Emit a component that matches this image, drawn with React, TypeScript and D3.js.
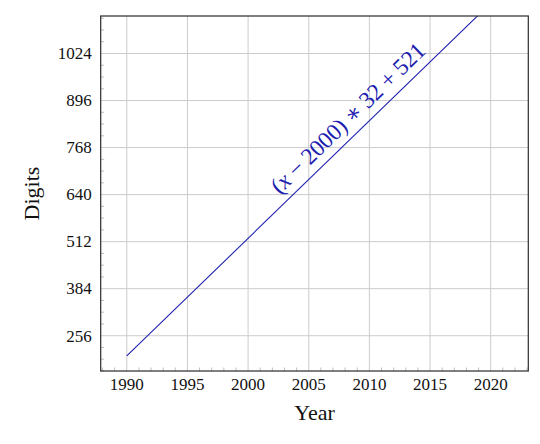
import { useEffect, useRef } from 'react';
import * as d3 from 'd3';

// Axis ticks
const yearTicks = [1990, 1995, 2000, 2005, 2010, 2015, 2020];
const digitTicks = [256, 384, 512, 640, 768, 896, 1024];

// Plotted line (clipped at the top of the axis)
const lineYears = [1990, 2020];
const lineDigits = [201, 1161];

const formulaLabel = '(x − 2000) ∗ 32 + 521';

export default function App() {
  const svgRef = useRef<SVGSVGElement>(null);

  useEffect(() => {
    if (!svgRef.current) return;

    const width = 540;
    const height = 444;
    const left = 100.7;
    const right = 528.3;
    const top = 16;
    const bottom = 371;

    const svg = d3.select(svgRef.current);
    svg.selectAll('*').remove();
    svg.attr('width', width).attr('height', height);

    const font = '"Liberation Serif", "DejaVu Serif", serif';
    const blue = '#2020b0';

    // Scales
    const x = d3.scaleLinear().domain([1987.85, 2023.1]).range([left, right]);
    const y = d3.scaleLinear().domain([160, 1126]).range([bottom, top]);

    svg
      .append('defs')
      .append('clipPath')
      .attr('id', 'plot-clip')
      .append('rect')
      .attr('x', left)
      .attr('y', top)
      .attr('width', right - left)
      .attr('height', bottom - top);

    // Grid
    const grid = svg.append('g').attr('stroke', '#cccccc').attr('stroke-width', 1);
    grid
      .selectAll('line.vx')
      .data(yearTicks)
      .enter()
      .append('line')
      .attr('x1', (d) => x(d))
      .attr('x2', (d) => x(d))
      .attr('y1', top)
      .attr('y2', bottom);
    grid
      .selectAll('line.hy')
      .data(digitTicks)
      .enter()
      .append('line')
      .attr('x1', left)
      .attr('x2', right)
      .attr('y1', (d) => y(d))
      .attr('y2', (d) => y(d));

    // Minor ticks (inside, left and bottom only)
    const minorX = d3.range(1988, 2024, 1).filter((d) => d % 5 !== 0);
    const minorY = d3.range(160, 1126, 32).filter((d) => d % 128 !== 0);
    const minor = svg.append('g').attr('stroke', '#b0b0b0').attr('stroke-width', 0.8);
    minor
      .selectAll('line.mx')
      .data(minorX)
      .enter()
      .append('line')
      .attr('x1', (d) => x(d))
      .attr('x2', (d) => x(d))
      .attr('y1', bottom)
      .attr('y2', bottom - 3.5);
    minor
      .selectAll('line.my')
      .data(minorY)
      .enter()
      .append('line')
      .attr('x1', left)
      .attr('x2', left + 3.5)
      .attr('y1', (d) => y(d))
      .attr('y2', (d) => y(d));

    // Line
    const pts = lineYears.map((yr, i) => [yr, lineDigits[i]] as [number, number]);
    const line = d3
      .line<[number, number]>()
      .x((d) => x(d[0]))
      .y((d) => y(d[1]));
    svg
      .append('path')
      .datum(pts)
      .attr('clip-path', 'url(#plot-clip)')
      .attr('fill', 'none')
      .attr('stroke', blue)
      .attr('stroke-width', 1.1)
      .attr('d', line);

    // Sloped label above the line
    const slope = (lineDigits[1] - lineDigits[0]) / (lineYears[1] - lineYears[0]);
    const lx = 2009.2;
    const ly = lineDigits[0] + (lx - lineYears[0]) * slope;
    const angle =
      (Math.atan2(y(ly + slope) - y(ly), x(lx + 1) - x(lx)) * 180) / Math.PI;
    const label = svg
      .append('text')
      .attr('transform', `translate(${x(lx)},${y(ly)}) rotate(${angle})`)
      .attr('dy', -9)
      .attr('text-anchor', 'middle')
      .attr('font-family', font)
      .attr('font-size', 23.5)
      .attr('fill', blue)
      .attr('textLength', 205)
      .attr('lengthAdjust', 'spacing');
    label.append('tspan').text(formulaLabel.slice(0, 1));
    label.append('tspan').attr('font-style', 'italic').text(formulaLabel.slice(1, 2));
    label.append('tspan').text(formulaLabel.slice(2));

    // Frame
    svg
      .append('rect')
      .attr('x', left)
      .attr('y', top)
      .attr('width', right - left)
      .attr('height', bottom - top)
      .attr('fill', 'none')
      .attr('stroke', '#2b2b2b')
      .attr('stroke-width', 1.2);

    // Tick labels
    svg
      .append('g')
      .selectAll('text')
      .data(yearTicks)
      .enter()
      .append('text')
      .attr('x', (d) => x(d))
      .attr('y', 390)
      .attr('text-anchor', 'middle')
      .attr('font-family', font)
      .attr('font-size', 17)
      .attr('fill', '#111')
      .text((d) => d);

    svg
      .append('g')
      .selectAll('text')
      .data(digitTicks)
      .enter()
      .append('text')
      .attr('x', left - 9)
      .attr('y', (d) => y(d))
      .attr('dy', '0.34em')
      .attr('text-anchor', 'end')
      .attr('font-family', font)
      .attr('font-size', 17)
      .attr('fill', '#111')
      .text((d) => d);

    // Axis labels
    svg
      .append('text')
      .attr('x', (left + right) / 2)
      .attr('y', 420)
      .attr('text-anchor', 'middle')
      .attr('font-family', font)
      .attr('font-size', 22)
      .attr('fill', '#111')
      .text('Year');

    svg
      .append('text')
      .attr('transform', `translate(39,${(top + bottom) / 2}) rotate(-90)`)
      .attr('text-anchor', 'middle')
      .attr('font-family', font)
      .attr('font-size', 22)
      .attr('fill', '#111')
      .text('Digits');
  }, []);

  return (
    <svg
      ref={svgRef}
      style={{ position: 'absolute', left: 0, top: 0, background: '#fff' }}
    />
  );
}
